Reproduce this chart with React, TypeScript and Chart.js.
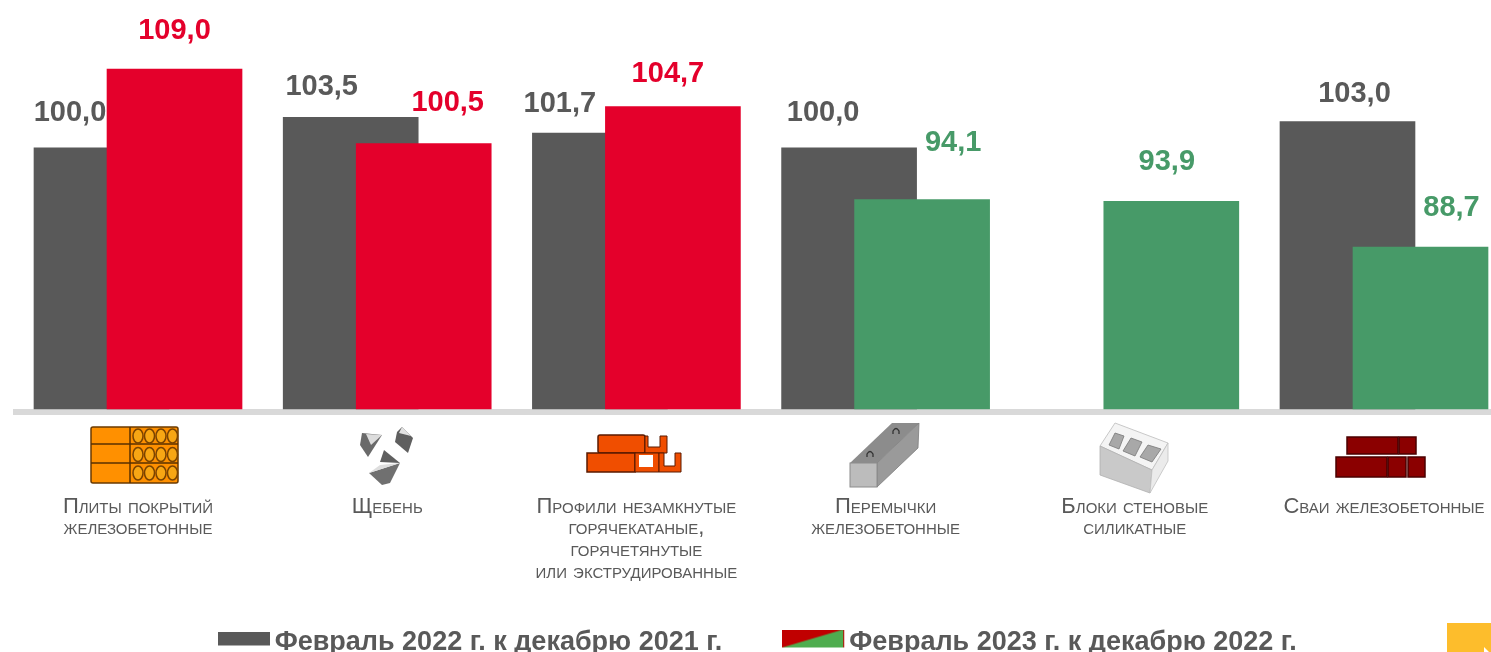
import React, { useEffect, useRef } from "react";
import { Chart, registerables } from "chart.js";

Chart.register(...registerables);

const categories: string[][] = [
  ["Плиты покрытий", "железобетонные"],
  ["Щебень"],
  ["Профили незамкнутые", "горячекатаные,", "горячетянутые", "или экструдированные"],
  ["Перемычки", "железобетонные"],
  ["Блоки стеновые", "силикатные"],
  ["Сваи железобетонные"],
];
const series2022: (number | null)[] = [100.0, 103.5, 101.7, 100.0, null, 103.0];
const series2023: number[] = [109.0, 100.5, 104.7, 94.1, 93.9, 88.7];
const legend2022 = "Февраль 2022 г. к декабрю 2021 г.";
const legend2023 = "Февраль 2023 г. к декабрю 2022 г.";

const GRAY = "#595959";
const RED = "#e4002b";
const GREEN = "#479a68";
const BAR_SHIFT = 0.1465;

// Hand placement of value labels relative to the top centre of each bar, in pixels.
const offsets2022 = [[-31.5, -35], [-29, -30], [-40, -29], [-26, -35], [0, 0], [7, -28]];
const offsets2023 = [[0, -38], [24, -41], [-5, -33], [31, -57], [-4.5, -39], [31, -39]];

const fmt = (v: number) => v.toFixed(1).replace(".", ",");

const valueLabels = {
  id: "valueLabels",
  afterLayout(chart: any) {
    // the x axis labels run below the legend's box; keep them from being clipped
    chart.scales.x.bottom = 600;
  },
  afterDatasetsDraw(chart: any) {
    const ctx = chart.ctx;
    ctx.save();
    ctx.font = 'bold 29px "Liberation Sans"';
    ctx.textAlign = "center";
    ctx.textBaseline = "middle";
    chart.data.datasets.forEach((ds: any, di: number) => {
      const offs = di === 0 ? offsets2022 : offsets2023;
      chart.getDatasetMeta(di).data.forEach((el: any, i: number) => {
        const v = ds.data[i].y;
        if (v == null) return;
        ctx.fillStyle = di === 0 ? GRAY : v > 100 ? RED : GREEN;
        ctx.fillText(fmt(v), el.x + offs[i][0], el.y + offs[i][1]);
      });
    });
    ctx.restore();
  },
};

function swatch(kind: "gray" | "split"): HTMLCanvasElement {
  const c = document.createElement("canvas");
  const g = c.getContext("2d")!;
  if (kind === "gray") {
    c.width = 52;
    c.height = 22;
    g.fillStyle = GRAY;
    g.fillRect(0, 0, 52, 14);
  } else {
    c.width = 72;
    c.height = 26;
    g.fillStyle = "#c00000";
    g.fillRect(0, 0, 62, 18);
    g.fillStyle = "#4fad4f";
    g.beginPath();
    g.moveTo(0, 18);
    g.lineTo(61, 0);
    g.lineTo(61, 18);
    g.closePath();
    g.fill();
  }
  return c;
}

const Icons = () => (
  <svg width={1491} height={652} style={{ position: "absolute", left: 0, top: 0, pointerEvents: "none" }}>
    <g style={{ filter: "blur(0.6px)" }}>
      {/* slabs */}
      <rect x={91} y={427} width={87} height={56} fill="#ff9000" stroke="#6b3a00" strokeWidth={1.5} rx={2} />
      <path d="M91 444H178M91 463H178M130 427V483" stroke="#5a3000" strokeWidth={1.5} />
      {[0, 1, 2].map((r) =>
        [0, 1, 2, 3].map((c) => (
          <ellipse key={r + "-" + c} cx={138 + c * 11.5} cy={436 + r * 18.5} rx={5} ry={7} fill="#f7a614" stroke="#7a4300" strokeWidth={1.5} />
        ))
      )}
      {/* crushed stone */}
      <path d="M362 433L382 435L368 457L360 445Z" fill="#6a6a6a" />
      <path d="M366 434L382 435L371 445Z" fill="#dcdcdc" />
      <path d="M402 427L413 438L408 453L395 442L397 432Z" fill="#5f5f5f" />
      <path d="M402 427L411 436L399 433Z" fill="#e2e2e2" />
      <path d="M384 450L400 463L380 462Z" fill="#5f5f5f" />
      <path d="M400 463L390 483L382 485L369 473Z" fill="#707070" />
      <path d="M400 463L369 473L380 465Z" fill="#dedede" />
      {/* profiles */}
      <rect x={598} y={435} width={47} height={18} fill="#f04e00" stroke="#5a1a00" strokeWidth={1.5} rx={2} />
      <rect x={587} y={453} width={48} height={19} fill="#f04e00" stroke="#5a1a00" strokeWidth={1.5} />
      <path d="M645 436H648V447H660V436H667V453H645Z" fill="#f04e00" stroke="#5a1a00" strokeWidth={1} />
      <path d="M635 453H659V472H635Z" fill="#f04e00" stroke="#5a1a00" strokeWidth={1} />
      <rect x={639} y={455} width={14} height={12} fill="#fff" />
      <path d="M659 453H664V466H675V453H681V472H659Z" fill="#f04e00" stroke="#5a1a00" strokeWidth={1} />
      {/* lintel */}
      <path d="M850 463L892 423L919 423L877 463Z" fill="#8c8c8c" />
      <path d="M877 463L919 423L918 448L877 487Z" fill="#9a9a9a" stroke="#7c7c7c" strokeWidth={0.8} />
      <rect x={850} y={463} width={27} height={24} fill="#bcbcbc" stroke="#8c8c8c" strokeWidth={1} />
      <path d="M893 434V431Q896 426 899 431V434M867 457V454Q870 449 873 454V457" fill="none" stroke="#333" strokeWidth={1.3} />
      {/* wall block */}
      <path d="M1100 446L1115 423L1168 443L1152 470Z" fill="#f4f4f4" stroke="#c8c8c8" strokeWidth={1} />
      <path d="M1100 446L1152 470L1150 493L1100 475Z" fill="#c9c9c9" stroke="#b0b0b0" strokeWidth={0.8} />
      <path d="M1152 470L1168 443L1168 461L1150 493Z" fill="#ebebeb" stroke="#c0c0c0" strokeWidth={0.8} />
      <path d="M1115 433L1124 436L1119 449L1109 445Z" fill="#a8a8a8" stroke="#777" strokeWidth={0.8} />
      <path d="M1131 438L1142 442L1135 456L1123 451Z" fill="#a8a8a8" stroke="#777" strokeWidth={0.8} />
      <path d="M1148 445L1161 449L1152 462L1140 457Z" fill="#a8a8a8" stroke="#777" strokeWidth={0.8} />
      {/* piles */}
      <g fill="#8b0000" stroke="#4a0000" strokeWidth={1.5}>
        <rect x={1347} y={437} width={51} height={17} />
        <rect x={1399} y={437} width={17} height={17} />
        <rect x={1336} y={457} width={51} height={20} />
        <rect x={1388} y={457} width={18} height={20} />
        <rect x={1408} y={457} width={17} height={20} />
      </g>
    </g>
    {/* page corner */}
    <rect x={1447} y={623} width={44} height={29} fill="#fdbd2c" />
    <path d="M1484 647L1489 652H1484Z" fill="#fff" />
  </svg>
);

export default function App() {
  const ref = useRef<HTMLCanvasElement>(null);
  useEffect(() => {
    const swatches = [swatch("gray"), swatch("split")];
    const toPoints = (vals: (number | null)[], shift: number) =>
      vals.map((y, i) => ({ x: i + shift, y }));
    const chart = new Chart(ref.current!, {
      type: "bar",
      data: {
        datasets: [
          {
            label: legend2022,
            data: toPoints(series2022, -BAR_SHIFT) as any,
            backgroundColor: GRAY,
            order: 2,
            base: 70.22,
          },
          {
            label: legend2023,
            data: toPoints(series2023, BAR_SHIFT) as any,
            backgroundColor: series2023.map((v) => (v > 100 ? RED : GREEN)),
            order: 1,
            base: 70.22,
          },
        ] as any,
      },
      plugins: [valueLabels],
      options: {
        animation: false,
        responsive: false,
        layout: { padding: { left: 16, top: 0, right: 0, bottom: 0 } },
        datasets: { bar: { grouped: false, barThickness: 135 } },
        scales: {
          x: {
            type: "linear",
            position: "bottom",
            offset: false,
            min: -0.4896,
            max: 5.4936,
            grid: { display: true, color: "transparent", drawOnChartArea: false, drawTicks: true, tickLength: 84 },
            border: { display: true, color: "#d9d9d9", width: 6 },
            afterBuildTicks: (s: any) => {
              s.ticks = categories.map((_, i) => ({ value: i }));
            },
            afterFit: (s: any) => {
              s.height = 138.5;
            },
            ticks: {
              autoSkip: false,
              maxRotation: 0,
              minRotation: 0,
              padding: 0,
              color: GRAY,
              font: { family: '"Liberation Sans"', size: 22, weight: "small-caps" as any, lineHeight: 0.98 },
              callback: (v: any) => categories[v] ?? "",
            },
          },
          y: {
            display: false,
            min: 69.88,
            max: 116.87,
          },
        },
        plugins: {
          tooltip: { enabled: false },
          legend: {
            position: "bottom",
            labels: {
              usePointStyle: true,
              pointStyleWidth: 35,
              padding: 78.5,
              color: GRAY,
              font: { family: '"Liberation Sans"', size: 27, weight: "bold" },
              generateLabels: () =>
                [legend2022, legend2023].map((text, i) => ({
                  text,
                  pointStyle: swatches[i],
                  fontColor: GRAY,
                  datasetIndex: i,
                })) as any,
            },
          },
        },
      } as any,
    });
    return () => chart.destroy();
  }, []);
  return (
    <div style={{ position: "fixed", left: 0, top: 0, width: 1491, height: 652, overflow: "hidden", background: "#fff" }}>
      <canvas ref={ref} width={1507} height={666} style={{ display: "block" }} />
      <Icons />
    </div>
  );
}
